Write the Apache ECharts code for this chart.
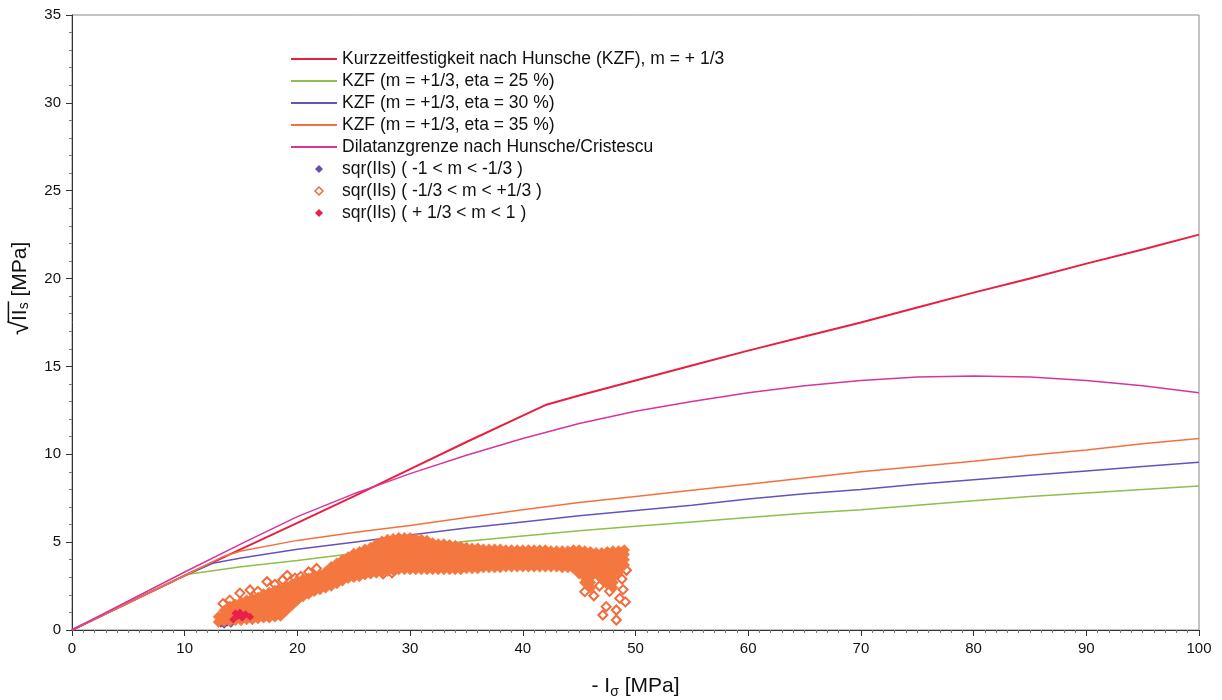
<!DOCTYPE html>
<html>
<head>
<meta charset="utf-8">
<script src="https://cdn.jsdelivr.net/npm/echarts@6/dist/echarts.min.js"></script>
<style>
  html, body { margin: 0; padding: 0; background: #fff; }
  #chart { width: 1222px; height: 700px; }
</style>
</head>
<body>
<div id="chart"></div>
<script>
// Axis ranges and tick steps
const xTicks = [0, 10, 20, 30, 40, 50, 60, 70, 80, 90, 100];
const yTicks = [0, 5, 10, 15, 20, 25, 30, 35];

// Series names
const names = [
  'Kurzzeitfestigkeit nach Hunsche (KZF), m = + 1/3',
  'KZF (m = +1/3, eta = 25 %)',
  'KZF (m = +1/3, eta = 30 %)',
  'KZF (m = +1/3, eta = 35 %)',
  'Dilatanzgrenze nach Hunsche/Cristescu',
  'sqr(IIs) ( -1 < m < -1/3 )',
  'sqr(IIs) ( -1/3 < m < +1/3 )',
  'sqr(IIs) ( + 1/3 < m < 1 )'
];

// Short-term strength (KZF), m = +1/3
const kzf = [[0,0],[5,1.55],[10,3.1],[15,4.6],[20,6.1],[25,7.6],[30,9.15],[35,10.7],[40,12.2],[42,12.8],
  [45,13.35],[50,14.2],[55,15.05],[60,15.9],[65,16.7],[70,17.5],[75,18.35],[80,19.2],[85,20.0],[90,20.85],[95,21.65],[100,22.5]];
// KZF, eta = 25 %
const kzf25 = [[0,0],[5,1.55],[10,3.1],[10.6,3.2],[15,3.6],[20,3.95],[25,4.35],[30,4.7],[35,5.05],[40,5.35],[45,5.65],
  [50,5.9],[55,6.15],[60,6.4],[65,6.65],[70,6.85],[75,7.1],[80,7.35],[85,7.6],[90,7.8],[95,8.0],[100,8.2]];
// KZF, eta = 30 %
const kzf30 = [[0,0],[5,1.55],[10,3.1],[12.5,3.8],[15,4.1],[20,4.6],[25,5.0],[30,5.4],[35,5.8],[40,6.15],[45,6.5],
  [50,6.8],[55,7.1],[60,7.45],[65,7.75],[70,8.0],[75,8.3],[80,8.55],[85,8.8],[90,9.05],[95,9.3],[100,9.55]];
// KZF, eta = 35 %
const kzf35 = [[0,0],[5,1.55],[10,3.1],[13.5,4.2],[15,4.5],[20,5.1],[25,5.55],[30,5.95],[35,6.4],[40,6.85],[45,7.25],
  [50,7.6],[55,7.95],[60,8.3],[65,8.65],[70,9.0],[75,9.3],[80,9.6],[85,9.95],[90,10.25],[95,10.6],[100,10.9]];
// Dilatancy boundary (Hunsche/Cristescu)
const dilatanz = [[0,0],[5,1.65],[10,3.3],[15,4.9],[20,6.45],[25,7.75],[27,8.2],[30,8.9],[35,9.95],[40,10.9],[45,11.75],
  [50,12.45],[55,13.0],[60,13.5],[65,13.9],[70,14.2],[75,14.4],[80,14.45],[85,14.4],[90,14.2],[95,13.9],[100,13.5]];

// Measured sqr(IIs), -1 < m < -1/3
const ptsLow = [[13.2,0.35],[13.5,0.3],[13.8,0.42],[14.1,0.35],[13.6,0.55]];
// Measured sqr(IIs), +1/3 < m < 1
const ptsHigh = [[14.3,0.6],[14.7,0.8],[15.1,0.7],[15.4,0.9],[14.9,1.0],[15.8,0.75],[14.5,0.95]];
// Measured sqr(IIs), -1/3 < m < +1/3 : dense band, listed column by column [x, [y ...]]
const ptsMidBand = [
  [13.0,[0.45,0.75]],
  [13.5,[0.5,0.8,1.1]],
  [14.0,[0.5,0.8,1.1,1.35]],
  [14.5,[0.55,0.85,1.15,1.45]],
  [15.0,[0.55,0.85,1.15,1.45,1.6]],
  [15.5,[0.6,0.9,1.2,1.5,1.7]],
  [16.0,[0.6,0.9,1.2,1.5,1.8]],
  [16.5,[0.65,0.95,1.25,1.55,1.85]],
  [17.0,[0.7,1.0,1.3,1.6,1.9,2.05]],
  [17.5,[0.7,1.0,1.3,1.6,1.9,2.15]],
  [18.0,[0.75,1.05,1.35,1.65,1.95,2.25]],
  [18.5,[0.8,1.1,1.4,1.7,2.0,2.3]],
  [19.0,[1.1,1.4,1.7,2.0,2.3,2.5]],
  [19.5,[1.4,1.7,2.0,2.3,2.6]],
  [20.0,[1.7,2.0,2.3,2.6,2.8]],
  [20.5,[1.9,2.2,2.5,2.8,2.9]],
  [21.0,[2.05,2.35,2.65,2.95]],
  [21.5,[2.2,2.5,2.8,3.05]],
  [22.0,[2.3,2.6,2.9,3.15]],
  [22.5,[2.4,2.7,3.0,3.3]],
  [23.0,[2.5,2.8,3.1,3.4,3.6]],
  [23.5,[2.65,2.95,3.25,3.55,3.8]],
  [24.0,[2.8,3.1,3.4,3.7,4.0]],
  [24.5,[2.95,3.25,3.55,3.85,4.15]],
  [25.0,[3.0,3.3,3.6,3.9,4.2,4.35]],
  [25.5,[3.05,3.35,3.65,3.95,4.25,4.45]],
  [26.0,[3.15,3.45,3.75,4.05,4.35,4.6]],
  [26.5,[3.2,3.5,3.8,4.1,4.4,4.7]],
  [27.0,[3.25,3.55,3.85,4.15,4.45,4.75,4.9]],
  [27.5,[3.3,3.6,3.9,4.2,4.5,4.8,5.05]],
  [28.0,[3.35,3.65,3.95,4.25,4.55,4.85,5.15]],
  [28.5,[3.4,3.7,4.0,4.3,4.6,4.9,5.2]],
  [29.0,[3.45,3.75,4.05,4.35,4.65,4.95,5.25]],
  [29.5,[3.45,3.75,4.05,4.35,4.65,4.95,5.25]],
  [30.0,[3.45,3.75,4.05,4.35,4.65,4.95,5.25]],
  [30.5,[3.45,3.75,4.05,4.35,4.65,4.95,5.2]],
  [31.0,[3.45,3.75,4.05,4.35,4.65,4.95,5.15]],
  [31.5,[3.45,3.75,4.05,4.35,4.65,4.9,5.1]],
  [32.0,[3.45,3.75,4.05,4.35,4.65,4.95]],
  [32.5,[3.45,3.75,4.05,4.35,4.65,4.9]],
  [33.0,[3.45,3.75,4.05,4.35,4.65,4.9]],
  [33.5,[3.45,3.75,4.05,4.35,4.6,4.85]],
  [34.0,[3.45,3.75,4.05,4.35,4.6,4.8]],
  [34.5,[3.45,3.75,4.05,4.35,4.6,4.75]],
  [35.0,[3.5,3.8,4.1,4.4,4.7]],
  [35.5,[3.5,3.8,4.1,4.4,4.65]],
  [36.0,[3.5,3.8,4.1,4.4,4.65]],
  [36.5,[3.55,3.85,4.15,4.4,4.6]],
  [37.0,[3.55,3.85,4.15,4.4,4.6]],
  [37.5,[3.55,3.85,4.15,4.4,4.6]],
  [38.0,[3.55,3.85,4.15,4.4,4.6]],
  [38.5,[3.6,3.9,4.2,4.4,4.55]],
  [39.0,[3.6,3.9,4.2,4.4,4.55]],
  [39.5,[3.6,3.9,4.2,4.4,4.55]],
  [40.0,[3.6,3.9,4.2,4.4,4.55]],
  [40.5,[3.6,3.9,4.2,4.4,4.55]],
  [41.0,[3.6,3.9,4.2,4.4,4.55]],
  [41.5,[3.6,3.9,4.2,4.4,4.55]],
  [42.0,[3.6,3.9,4.2,4.4,4.55]],
  [42.5,[3.6,3.9,4.2,4.4,4.5]],
  [43.0,[3.6,3.9,4.2,4.4,4.5]],
  [43.5,[3.55,3.85,4.15,4.4,4.5]],
  [44.0,[3.55,3.85,4.15,4.4,4.5]],
  [44.5,[3.5,3.8,4.1,4.35,4.55]],
  [45.0,[3.2,3.5,3.8,4.1,4.35,4.55]],
  [45.5,[2.7,3.0,3.3,3.6,3.9,4.2,4.5]],
  [46.0,[2.4,2.7,3.0,3.3,3.6,3.9,4.2,4.45]],
  [46.5,[3.2,3.5,3.8,4.1,4.4]],
  [47.0,[2.9,3.2,3.5,3.8,4.1,4.4]],
  [47.5,[2.6,2.9,3.2,3.5,3.8,4.1,4.45]],
  [48.0,[2.4,2.7,3.0,3.3,3.6,3.9,4.2,4.5]],
  [48.5,[3.3,3.6,3.9,4.2,4.5]],
  [49.0,[3.7,4.0,4.3,4.55]]
];
// Measured sqr(IIs), -1/3 < m < +1/3 : separate points around the band
const ptsMidLoose = [[13.4,1.5],[14.0,1.7],[14.9,2.1],[15.8,2.28],[16.5,2.2],[17.3,2.75],[18.0,2.6],
  [18.7,2.85],[19.1,3.1],[19.8,2.95],[20.3,3.05],[21.0,3.3],[21.7,3.5],[27.6,3.2],[28.4,3.25],
  [45.5,2.18],[46.3,1.95],[46.8,2.5],[47.1,2.85],[47.7,2.2],[47.4,1.33],[47.1,0.85],[48.3,1.14],
  [48.3,0.57],[48.6,1.8],[49.1,1.6],[48.9,2.3],[48.8,2.9],[49.2,3.4]];

const bandData = [];
ptsMidBand.forEach(function (col) {
  col[1].forEach(function (y) { bandData.push([col[0], y]); });
});

const FONT = 'Liberation Sans, Arial, sans-serif';
const ORANGE_PT = '#f06a3c';
// Legend icons: a small diamond inside the 46px-wide icon box
const DIAMOND_ICON = 'path://M0,0M46,10M28,1L32,5L28,9L24,5Z';

const chart = echarts.init(document.getElementById('chart'), null, { renderer: 'canvas' });

function lineSeries(name, data, color, width) {
  return {
    name: name, type: 'line', data: data, symbol: 'none', showSymbol: false,
    lineStyle: { color: color, width: width }, itemStyle: { color: color },
    z: 2, silent: true, animation: false
  };
}

function lineLegend(name) {
  return { name: name, itemStyle: { opacity: 0 } };
}

chart.setOption({
  backgroundColor: '#ffffff',
  animation: false,
  grid: {
    left: 72, right: 23, top: 15, bottom: 70,
    show: true, borderColor: '#8a8a8a', borderWidth: 1, backgroundColor: 'transparent',
    outerBoundsMode: 'none'
  },
  legend: {
    orient: 'vertical', left: 290, top: 50, padding: 0,
    itemWidth: 46, itemHeight: 10, itemGap: 4,
    textStyle: { fontFamily: FONT, fontSize: 17.5, color: '#111', lineHeight: 18 },
    data: [
      lineLegend(names[0]), lineLegend(names[1]), lineLegend(names[2]), lineLegend(names[3]), lineLegend(names[4]),
      { name: names[5], icon: DIAMOND_ICON, itemStyle: { color: '#6a4fa8', borderWidth: 0 } },
      { name: names[6], icon: DIAMOND_ICON, itemStyle: { color: '#ffffff', borderColor: ORANGE_PT, borderWidth: 1.5 } },
      { name: names[7], icon: DIAMOND_ICON, itemStyle: { color: '#e8204a', borderWidth: 0 } }
    ]
  },
  xAxis: {
    type: 'value', min: xTicks[0], max: xTicks[xTicks.length - 1], interval: xTicks[1] - xTicks[0],
    axisLine: { show: true, onZero: false, lineStyle: { color: '#333', width: 1 } },
    axisTick: { show: true, length: 6, lineStyle: { color: '#333' } },
    minorTick: { show: true, splitNumber: 10, length: 3, lineStyle: { color: '#777' } },
    splitLine: { show: false },
    axisLabel: { fontFamily: FONT, fontSize: 15, color: '#111', margin: 11 },
    name: '- I{sub|σ} [MPa]', nameLocation: 'middle', nameGap: 43,
    nameTextStyle: {
      fontFamily: FONT, fontSize: 21, color: '#111', lineHeight: 26,
      rich: { sub: { fontFamily: FONT, fontSize: 14, color: '#111', verticalAlign: 'bottom', lineHeight: 14, padding: [7, 0, 0, 0] } }
    }
  },
  yAxis: {
    type: 'value', min: yTicks[0], max: yTicks[yTicks.length - 1], interval: yTicks[1] - yTicks[0],
    axisLine: { show: true, onZero: false, lineStyle: { color: '#333', width: 1 } },
    axisTick: { show: true, length: 6, lineStyle: { color: '#333' } },
    minorTick: { show: true, splitNumber: 5, length: 3, lineStyle: { color: '#777' } },
    splitLine: { show: false },
    axisLabel: { fontFamily: FONT, fontSize: 15, color: '#111', margin: 11 },
    // square root of II_s: radical sign with a bar drawn over "II s"
    name: '{gap|}{bar|}{rest|}\n{rad|√}{main|II}{sub|s}{main| [MPa]}',
    nameLocation: 'middle', nameGap: 31, nameRotate: 90,
    nameTextStyle: {
      fontFamily: FONT, fontSize: 21, color: '#111', padding: [0, 0, 0, 68],
      rich: {
        gap: { width: 13, height: 1.5, lineHeight: 2 },
        bar: { width: 21, height: 1.5, lineHeight: 2, backgroundColor: '#111' },
        rest: { width: 59.7, height: 1.5, lineHeight: 2 },
        rad: { fontFamily: FONT, fontSize: 26, color: '#111', lineHeight: 22 },
        main: { fontFamily: FONT, fontSize: 21, color: '#111', lineHeight: 22 },
        sub: { fontFamily: FONT, fontSize: 14, color: '#111', verticalAlign: 'bottom', lineHeight: 14, padding: [7, 0, 0, 0] }
      }
    }
  },
  series: [
    lineSeries(names[0], kzf, '#e8203f', 2),
    lineSeries(names[1], kzf25, '#8dbf4c', 1.5),
    lineSeries(names[2], kzf30, '#6552c0', 1.5),
    lineSeries(names[3], kzf35, '#f4713e', 1.5),
    lineSeries(names[4], dilatanz, '#d8359a', 1.5),
    {
      name: names[5], type: 'scatter', data: ptsLow, symbol: 'diamond', symbolSize: 8,
      itemStyle: { color: '#6a4fa8', opacity: 1 }, z: 3, silent: true
    },
    {
      name: names[6], type: 'scatter', data: ptsMidLoose, symbol: 'emptyDiamond', symbolSize: 9,
      itemStyle: { color: ORANGE_PT, borderWidth: 1.5, opacity: 1 }, z: 3, silent: true
    },
    {
      name: names[6], type: 'scatter', data: bandData, symbol: 'diamond', symbolSize: 11,
      itemStyle: { color: '#f4773f', borderColor: '#f4773f', borderWidth: 0.5, opacity: 1 }, z: 3, silent: true
    },
    {
      name: names[7], type: 'scatter', data: ptsHigh, symbol: 'diamond', symbolSize: 8,
      itemStyle: { color: '#e8204a', opacity: 1 }, z: 3, silent: true
    }
  ]
});
</script>
</body>
</html>
